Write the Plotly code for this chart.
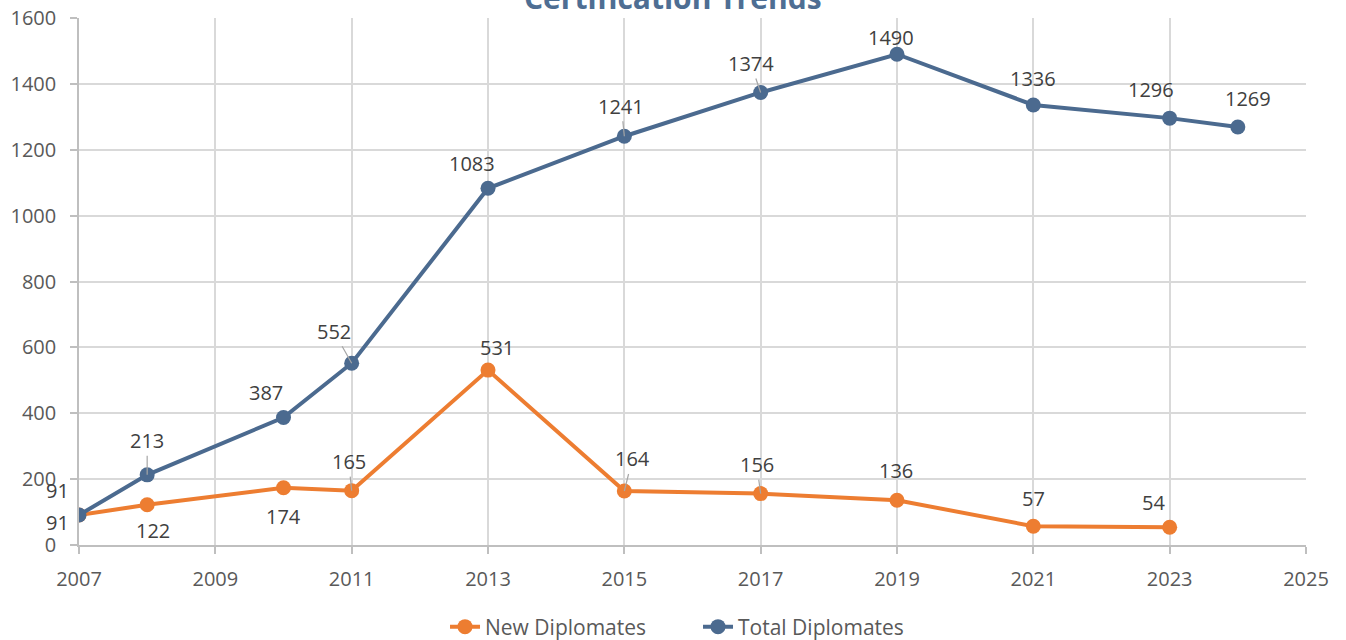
import plotly.graph_objects as go

# ---- data ----
total_years = [2007, 2008, 2010, 2011, 2013, 2015, 2017, 2019, 2021, 2023, 2024]
total_values = [91, 213, 387, 552, 1083, 1241, 1374, 1490, 1336, 1296, 1269]
new_years = [2007, 2008, 2010, 2011, 2013, 2015, 2017, 2019, 2021, 2023]
new_values = [91, 122, 174, 165, 531, 164, 156, 136, 57, 54]
x_ticks = list(range(2007, 2026, 2))
y_ticks = list(range(0, 1601, 200))
chart_title = "Certification Trends"

# ---- label placement (pixel offsets from the point, leader-line flag) ----
total_off = [(-22, -25, 0), (0, -34, 1), (-18, -25, 0), (-18, -32, 1), (-16, -25, 0),
             (-3, -30, 1), (-10, -29, 1), (-6, -17, 0), (0, -26, 0), (-19, -29, 0), (10, -29, 0)]
new_off = [(-22, 7, 0), (6, 26, 0), (0, 29, 0), (-3, -29, 1), (9, -23, 0),
           (8, -32, 1), (-4, -29, 1), (-1, -30, 0), (0, -28, 0), (-16, -25, 0)]

ORANGE = "#ED7D31"
BLUE = "#4B6A8F"
FONT = "Open Sans"

fig = go.Figure()
fig.add_trace(go.Scatter(x=new_years, y=new_values, name="New Diplomates", mode="lines+markers",
                         line=dict(color=ORANGE, width=4), marker=dict(size=15, color=ORANGE)))
fig.add_trace(go.Scatter(x=total_years, y=total_values, name="Total Diplomates", mode="lines+markers",
                         line=dict(color=BLUE, width=4), marker=dict(size=15, color=BLUE)))

annotations = []
for xs, ys, offs in [(total_years, total_values, total_off), (new_years, new_values, new_off)]:
    for x, y, (dx, dy, lead) in zip(xs, ys, offs):
        annotations.append(dict(
            x=x, y=y, text=str(y), showarrow=True, ax=dx, ay=dy, arrowhead=0,
            arrowwidth=1.2, standoff=0,
            arrowcolor="#A6A6A6" if lead else "rgba(0,0,0,0)",
            font=dict(family=FONT, size=20, color="#404040")))

# chart title (partly above the visible area, as in the reference)
annotations.append(dict(text="<b>" + chart_title + "</b>", xref="paper", yref="paper",
                        x=0.4841, y=1.038, xanchor="center", yanchor="middle", showarrow=False,
                        font=dict(family=FONT, size=30, color="#4E6E93")))

fig.update_layout(
    width=1346, height=640,
    margin=dict(l=79, r=40, t=18, b=95, autoexpand=False),
    paper_bgcolor="white", plot_bgcolor="white",
    font=dict(family=FONT, size=20, color="#595959"),
    showlegend=True,
    legend=dict(orientation="h", x=0.2983, xanchor="left", y=-0.1556, yanchor="middle",
                font=dict(family=FONT, size=21, color="#595959"),
                entrywidth=208, entrywidthmode="pixels", tracegroupgap=0),
    annotations=annotations,
)
fig.update_xaxes(range=[2007, 2025], tickvals=x_ticks, showgrid=True, gridcolor="#D9D9D9", gridwidth=1.5,
                 showline=True, linecolor="#BFBFBF", linewidth=1.5, ticks="outside", ticklen=7,
                 tickcolor="#BFBFBF", tickwidth=1.5, ticklabelstandoff=8, zeroline=False, automargin=False,
                 ticklabeloverflow="allow",
                 tickfont=dict(family=FONT, size=20, color="#595959"))
fig.update_yaxes(range=[0, 1600], tickvals=y_ticks, showgrid=True, gridcolor="#D9D9D9", gridwidth=1.5,
                 showline=True, linecolor="#BFBFBF", linewidth=1.5, ticks="outside", ticklen=7,
                 tickcolor="#BFBFBF", tickwidth=1.5, ticklabelstandoff=10, zeroline=False, automargin=False,
                 ticklabeloverflow="allow",
                 tickfont=dict(family=FONT, size=20, color="#595959"))

fig.write_html("out.html", config={"displayModeBar": False},
               post_script="document.body.style.margin='0';")
